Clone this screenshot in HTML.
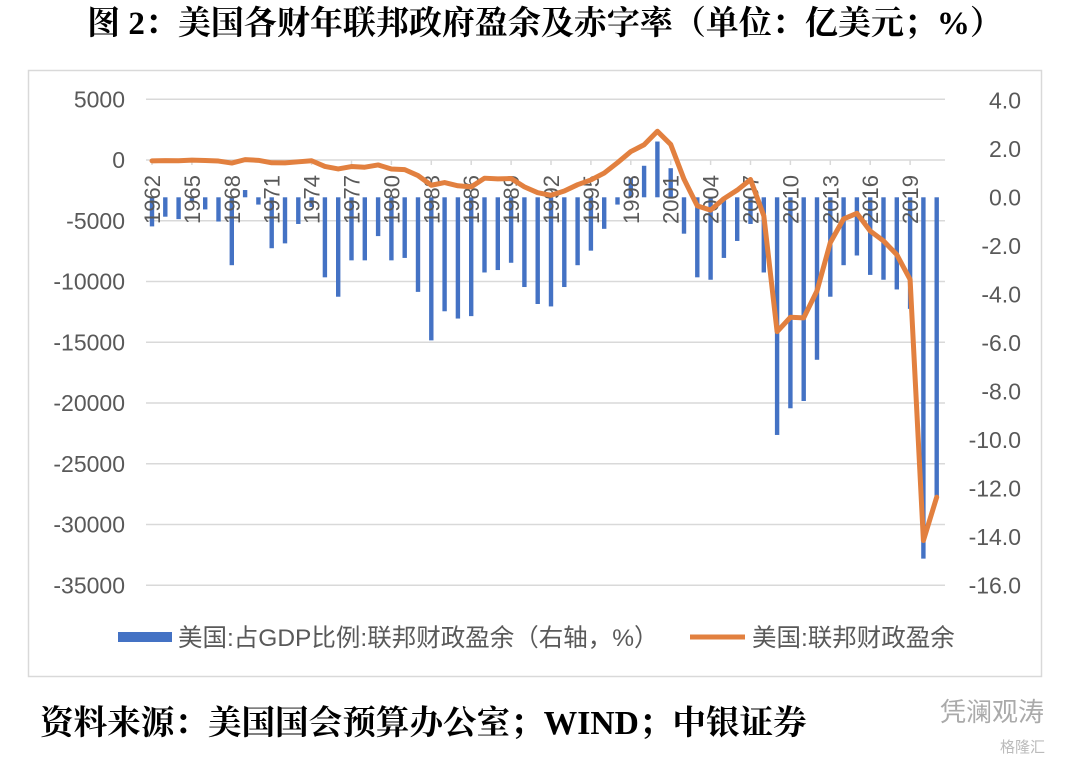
<!DOCTYPE html>
<html><head><meta charset="utf-8"><style>
html,body{margin:0;padding:0;background:#fff;width:1080px;height:765px;overflow:hidden;}
svg{display:block;font-family:"Liberation Sans","Noto Sans CJK SC",sans-serif;}
</style></head><body>
<svg id="chart" width="1080" height="765" viewBox="0 0 1080 765">
<text x="545" y="34" text-anchor="middle" font-family="'Liberation Serif','Noto Serif CJK SC',serif" font-weight="bold" font-size="33" fill="#000">图 2：美国各财年联邦政府盈余及赤字率（单位：亿美元；%）</text>
<rect x="28.5" y="70.5" width="1013" height="606" fill="none" stroke="#d9d9d9" stroke-width="1.5"/>
<g id="grid"></g><g id="bars"></g><g id="xaxis"></g><g id="line"></g><g id="ylabels"></g>
<g>
<rect x="118" y="632" width="54" height="10" fill="#4472C4"/>
<text x="178" y="646" font-size="24.5" fill="#595959">美国:占GDP比例:联邦财政盈余（右轴，%）</text>
<line x1="690" y1="637" x2="745" y2="637" stroke="#E2803F" stroke-width="5"/>
<text x="752" y="646" font-size="24.5" fill="#595959">美国:联邦财政盈余</text>
</g>
<text x="40" y="734" font-family="'Liberation Serif','Noto Serif CJK SC',serif" font-weight="bold" font-size="33.6" fill="#000">资料来源：美国国会预算办公室；WIND；中银证券</text>
<text x="940" y="721" font-size="26" fill="#aaa">凭澜观涛</text>
<text x="1000" y="752" font-size="15" fill="#bbb">格隆汇</text>
</svg>
<script>
const years = [];
for (let y = 1962; y <= 2021; y++) years.push(y);
const ratio = [-1.2,-0.8,-0.9,-0.2,-0.5,-1.0,-2.8,0.3,-0.3,-2.1,-1.9,-1.1,-0.4,-3.3,-4.1,-2.6,-2.6,-1.6,-2.6,-2.5,-3.9,-5.9,-4.7,-5.0,-4.9,-3.1,-3.0,-2.7,-3.7,-4.4,-4.5,-3.7,-2.8,-2.2,-1.3,-0.3,0.8,1.3,2.3,1.2,-1.5,-3.3,-3.4,-2.5,-1.8,-1.1,-3.1,-9.8,-8.7,-8.4,-6.7,-4.1,-2.8,-2.4,-3.2,-3.4,-3.8,-4.6,-14.9,-12.4];
const surplus = [-71,-48,-59,-14,-37,-86,-252,32,-28,-230,-234,-149,-61,-532,-737,-537,-592,-407,-738,-790,-1280,-2078,-1854,-2123,-2212,-1497,-1552,-1526,-2210,-2692,-2903,-2551,-2032,-1640,-1074,-219,693,1256,2362,1282,-1578,-3776,-4127,-3183,-2482,-1607,-4586,-14127,-12944,-12996,-10766,-6798,-4848,-4385,-5847,-6654,-7791,-9836,-31319,-27750];
const leftTicks = [5000,0,-5000,-10000,-15000,-20000,-25000,-30000,-35000];
const rightTicks = ["4.0","2.0","0.0","-2.0","-4.0","-6.0","-8.0","-10.0","-12.0","-14.0","-16.0"];
const NS = "http://www.w3.org/2000/svg";
const yL = v => 160 - v * (60.75 / 5000);
const yR = v => 197.3 - v * 24.25;
const xS = i => 152 + i * 13.3;
function mk(tag, attrs, parent){const e=document.createElementNS(NS,tag);for(const k in attrs)e.setAttribute(k,attrs[k]);parent.appendChild(e);return e;}
const grid=document.getElementById('grid'), bars=document.getElementById('bars'), xa=document.getElementById('xaxis'), ln=document.getElementById('line'), yl=document.getElementById('ylabels');
leftTicks.forEach(v=>{
  const g=mk('line',{x1:146,x2:945,y1:yL(v),y2:yL(v),stroke:'#d9d9d9','stroke-width':1.5},grid);
  
  
  const t=mk('text',{x:125,y:yL(v)+8,'text-anchor':'end','font-size':23,fill:'#595959'},yl);
  t.textContent=v;
  
  
});
rightTicks.forEach(s=>{
  const t=mk('text',{x:1021,y:yR(parseFloat(s))+8,'text-anchor':'end','font-size':23,fill:'#595959'},yl);
  t.textContent=s;
  
  
});
ratio.forEach((v,i)=>{
  const y0=yR(0), y1=yR(v);
  const r=mk('rect',{x:xS(i)-2.2,y:Math.min(y0,y1),width:4.4,height:Math.abs(y1-y0),fill:'#4472C4'},bars);
  
  
});
years.forEach((yr,i)=>{
  if((yr-1962)%3===0){
    mk('line',{x1:xS(i),x2:xS(i),y1:160,y2:165,stroke:'#d9d9d9','stroke-width':1.5},xa);
    const t=mk('text',{x:0,y:0,transform:`translate(${xS(i)+8},${175}) rotate(-90)`,'text-anchor':'end','font-size':22,fill:'#595959'},xa);
    t.textContent=yr;
    
    
  }
});
const pl=mk('polyline',{points:surplus.map((v,i)=>xS(i)+','+yL(v)).join(' '),fill:'none',stroke:'#E2803F','stroke-width':5,'stroke-linejoin':'round','stroke-linecap':'round'},ln);


</script>
</body></html>
